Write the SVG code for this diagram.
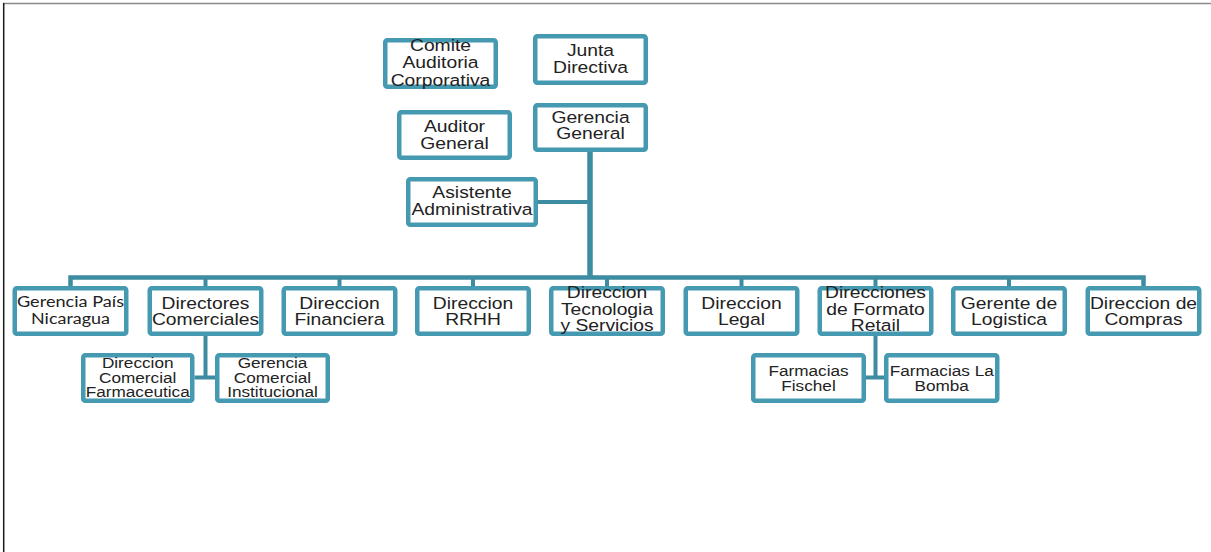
<svg xmlns="http://www.w3.org/2000/svg" width="1211" height="552" viewBox="0 0 1211 552">
<style>
.box{fill:#ffffff;stroke:#4599b0;stroke-width:4.5}
.con{fill:none;stroke:#3d8ca2;stroke-linejoin:miter}
.t{font-family:"Liberation Sans",Arial,sans-serif;font-size:16.5px;fill:#222222;text-anchor:middle}
.s{font-family:"Liberation Sans",Arial,sans-serif;font-size:14.7px;fill:#222222;text-anchor:middle}
.c{font-family:Lato,"Noto Sans",sans-serif;font-size:14.5px;fill:#222222;text-anchor:middle}
</style>
<rect x="0" y="0" width="1211" height="552" fill="#ffffff"/>
<line x1="3" y1="3.5" x2="1211" y2="3.5" stroke="#8a8a8a" stroke-width="1.5"/>
<line x1="3.7" y1="3" x2="3.7" y2="552" stroke="#1a1a1a" stroke-width="1.5"/>

<g id="connectors">
  <path class="con" stroke-width="5.5" d="M590 152 V278"/>
  <path class="con" stroke-width="4" d="M538 202 H590"/>
  <path class="con" stroke-width="4.5" d="M70.5 287 V277.5 H1143.5 V287"/>
  <path class="con" stroke-width="4" d="M205.5 277.5 V287 M339.5 277.5 V287 M473 277.5 V287 M607 277.5 V287 M741.5 277.5 V287 M875.5 277.5 V287 M1009 277.5 V287"/>
  <path class="con" stroke-width="4" d="M205.5 336 V377.5 M194.5 377.5 H215"/>
  <path class="con" stroke-width="4" d="M875.5 336 V377.5 M866 377.5 H884"/>
</g>

<g id="comite">
  <rect class="box" x="385.25" y="40.25" width="110.5" height="46.5" rx="2"/>
  <text class="t" transform="translate(440.5 0) scale(1.17 1)"><tspan x="0" y="51">Comite</tspan><tspan x="0" y="68">Auditoria</tspan><tspan x="0" y="86">Corporativa</tspan></text>
</g>
<g id="junta">
  <rect class="box" x="535.25" y="36.25" width="110.5" height="46.5" rx="2"/>
  <text class="t" transform="translate(590.5 0) scale(1.17 1)"><tspan x="0" y="56">Junta</tspan><tspan x="0" y="73">Directiva</tspan></text>
</g>
<g id="gerencia-general">
  <rect class="box" x="535.25" y="105.25" width="110.5" height="44.5" rx="2"/>
  <text class="t" transform="translate(590.5 0) scale(1.17 1)"><tspan x="0" y="123">Gerencia</tspan><tspan x="0" y="139.5">General</tspan></text>
</g>
<g id="auditor">
  <rect class="box" x="399.25" y="112.25" width="110.5" height="45.5" rx="2"/>
  <text class="t" transform="translate(454.5 0) scale(1.17 1)"><tspan x="0" y="132.5">Auditor</tspan><tspan x="0" y="149">General</tspan></text>
</g>
<g id="asistente">
  <rect class="box" x="408.25" y="179.25" width="127.5" height="45.5" rx="2"/>
  <text class="t" transform="translate(472 0) scale(1.17 1)"><tspan x="0" y="198.5">Asistente</tspan><tspan x="0" y="215">Administrativa</tspan></text>
</g>

<g id="gerencia-pais">
  <rect class="box" x="14.75" y="288.25" width="111.5" height="45.5" rx="2"/>
  <text class="c"><tspan x="70.5" y="306.5" textLength="107" lengthAdjust="spacingAndGlyphs">Gerencia País</tspan><tspan x="70.5" y="324" textLength="79" lengthAdjust="spacingAndGlyphs">Nicaragua</tspan></text>
</g>
<g id="directores-comerciales">
  <rect class="box" x="149.75" y="288.25" width="111.5" height="45.5" rx="2"/>
  <text class="t" transform="translate(205.5 0) scale(1.17 1)"><tspan x="0" y="309">Directores</tspan><tspan x="0" y="325.5">Comerciales</tspan></text>
</g>
<g id="direccion-financiera">
  <rect class="box" x="283.75" y="288.25" width="111.5" height="45.5" rx="2"/>
  <text class="t" transform="translate(339.5 0) scale(1.17 1)"><tspan x="0" y="309">Direccion</tspan><tspan x="0" y="325.5">Financiera</tspan></text>
</g>
<g id="direccion-rrhh">
  <rect class="box" x="417.25" y="288.25" width="111.5" height="45.5" rx="2"/>
  <text class="t" transform="translate(473 0) scale(1.17 1)"><tspan x="0" y="309">Direccion</tspan><tspan x="0" y="325.5">RRHH</tspan></text>
</g>
<g id="direccion-tecnologia">
  <rect class="box" x="551.25" y="288.25" width="111.5" height="45.5" rx="2"/>
  <text class="t" transform="translate(607 0) scale(1.17 1)"><tspan x="0" y="298.5">Direccion</tspan><tspan x="0" y="315">Tecnologia</tspan><tspan x="0" y="331.5">y Servicios</tspan></text>
</g>
<g id="direccion-legal">
  <rect class="box" x="685.75" y="288.25" width="111.5" height="45.5" rx="2"/>
  <text class="t" transform="translate(741.5 0) scale(1.17 1)"><tspan x="0" y="309">Direccion</tspan><tspan x="0" y="325.5">Legal</tspan></text>
</g>
<g id="direcciones-retail">
  <rect class="box" x="819.75" y="288.25" width="111.5" height="45.5" rx="2"/>
  <text class="t" transform="translate(875.5 0) scale(1.17 1)"><tspan x="0" y="298.5">Direcciones</tspan><tspan x="0" y="315">de Formato</tspan><tspan x="0" y="331.5">Retail</tspan></text>
</g>
<g id="gerente-logistica">
  <rect class="box" x="953.25" y="288.25" width="111.5" height="45.5" rx="2"/>
  <text class="t" transform="translate(1009 0) scale(1.17 1)"><tspan x="0" y="309">Gerente de</tspan><tspan x="0" y="325.5">Logistica</tspan></text>
</g>
<g id="direccion-compras">
  <rect class="box" x="1087.75" y="288.25" width="111.5" height="45.5" rx="2"/>
  <text class="t" transform="translate(1143.5 0) scale(1.17 1)"><tspan x="0" y="309">Direccion de</tspan><tspan x="0" y="325.5">Compras</tspan></text>
</g>

<g id="comercial-farmaceutica">
  <rect class="box" x="83.25" y="355.25" width="109" height="45.5" rx="2"/>
  <text class="s" transform="translate(137.7 0) scale(1.17 1)"><tspan x="0" y="368.5">Direccion</tspan><tspan x="0" y="383">Comercial</tspan><tspan x="0" y="397.5">Farmaceutica</tspan></text>
</g>
<g id="comercial-institucional">
  <rect class="box" x="217.25" y="355.25" width="110.5" height="45.5" rx="2"/>
  <text class="s" transform="translate(272.5 0) scale(1.17 1)"><tspan x="0" y="368.5">Gerencia</tspan><tspan x="0" y="383">Comercial</tspan><tspan x="0" y="397.5">Institucional</tspan></text>
</g>
<g id="farmacias-fischel">
  <rect class="box" x="753.25" y="355.25" width="110.5" height="45.5" rx="2"/>
  <text class="s" transform="translate(808.5 0) scale(1.17 1)"><tspan x="0" y="376">Farmacias</tspan><tspan x="0" y="391">Fischel</tspan></text>
</g>
<g id="farmacias-bomba">
  <rect class="box" x="886.25" y="355.25" width="111" height="45.5" rx="2"/>
  <text class="s" transform="translate(941.7 0) scale(1.17 1)"><tspan x="0" y="376">Farmacias La</tspan><tspan x="0" y="391">Bomba</tspan></text>
</g>
</svg>
